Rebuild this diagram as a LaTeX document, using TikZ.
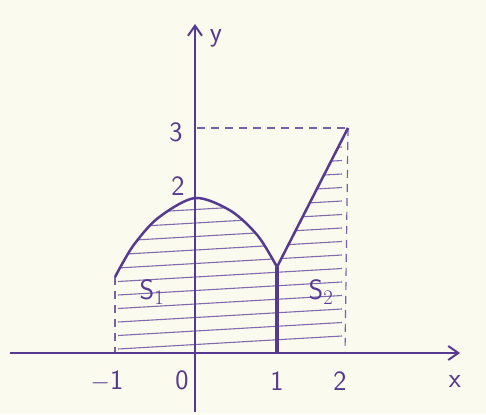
\documentclass[tikz,border=0pt]{standalone}
\usetikzlibrary{arrows.meta}
\definecolor{ink}{HTML}{553A92}
\definecolor{paper}{HTML}{FBFAEE}
\begin{document}
\begin{tikzpicture}[x=1pt,y=-1pt,
  axis/.style={draw=ink,line width=2.2pt,-{Straight Barb[length=10pt,width=14pt,line width=2pt]}},
  curve/.style={draw=ink,line width=2.5pt,line join=round},
  hatch/.style={draw=ink!75,line width=1.1pt},
  guide/.style={draw=ink!80,line width=1.2pt,dash pattern=on 8pt off 6pt},
  lbl/.style={text=ink,font=\sffamily\fontsize{28}{28}\selectfont,inner sep=0pt}]
\fill[paper] (0,0) rectangle (486,414);
\useasboundingbox (0,0) rectangle (486,414);
% key points
\coordinate (O) at (195,353);
\coordinate (A) at (115,277);
\coordinate (P) at (195,198);
\coordinate (B) at (277,267);
\coordinate (C) at (348,128);
\coordinate (Ax) at (115,353);
\coordinate (Bx) at (277,353);
\coordinate (Cx) at (345,353);
\coordinate (C3) at (197,128);
\coordinate (xs) at (10,353);
\coordinate (xe) at (460,353);
\coordinate (ys) at (195,412);
\coordinate (ye) at (195,24);
% hatching
\begin{scope}
\clip plot[smooth] coordinates {(115,277) (133,246) (158,218) (195,198) (231,211) (258,236) (277,267)} -- (C) -- (Cx) -- (Ax) -- cycle;
\foreach \k in {0,...,17}{
  \draw[hatch] (118,{349-13.5*\k}) -- (342,{336-13.5*\k});
}
\end{scope}
% guides
\draw[guide] (A) -- (Ax);
\draw[guide] (C) -- (Cx);
\draw[guide] (C3) -- (C);
% axes
\draw[axis] (xs) -- (xe);
\draw[axis] (ys) -- (ye);
% curves
\draw[curve] plot[smooth] coordinates {(115,277) (133,246) (158,218) (195,198) (231,211) (258,236) (277,267)};
\draw[curve] (B) -- (C);
\draw[curve,line width=3.2pt] (B) -- (Bx);
% labels
\node[lbl] (ly) at (216,38) {y};
\node[lbl] (lx) at (455,381) {x};
\node[lbl] (l3) at (176,132) {3};
\node[lbl] (l2) at (178,186) {2};
\node[lbl] (lm1) at (107,381) {$-$1};
\node[lbl] (l0) at (182,380) {0};
\node[lbl] (l1) at (277,381) {1};
\node[lbl] (l2x) at (340,381) {2};
\node[lbl] (s1) at (152,292) {S$_1$};
\node[lbl] (s2) at (321,292) {S$_2$};
\end{tikzpicture}
\end{document}
